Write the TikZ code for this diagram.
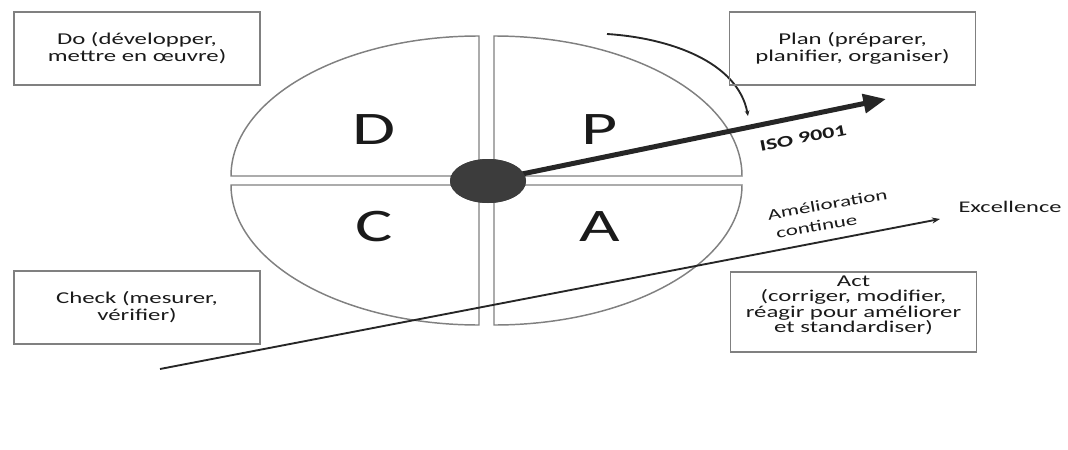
\documentclass[tikz,border=0pt]{standalone}
\usepackage{fontspec}
\setmainfont{Carlito}[FakeStretch=1.5]
\usetikzlibrary{arrows.meta,shapes.geometric}
\definecolor{edgegray}{HTML}{808080}
\definecolor{ink}{HTML}{262626}
\definecolor{textink}{HTML}{1A1A1A}
\definecolor{hubfill}{HTML}{3C3C3C}

\begin{document}
\begin{tikzpicture}[x=0.75pt,y=-0.75pt,
  labelbox/.style={draw=edgegray, line width=1.3pt, minimum width=184.5pt,
    minimum height=54.75pt, align=center, inner sep=0pt, text=textink,
    font=\fontsize{12.4}{12.75}\selectfont},
  quarter/.style={draw=edgegray, line width=1.1pt},
  letter/.style={text=textink, inner sep=0pt, font=\fontsize{35}{35}\selectfont},
  hub/.style={ellipse, fill=hubfill, draw=none, inner sep=0pt,
    minimum width=57pt, minimum height=33pt},
  isoarrow/.style={draw=ink, line width=3.75pt, -{Triangle[length=17pt,width=14pt]}},
  impline/.style={draw=ink, line width=1.4pt, -{Stealth[length=6pt,width=4.5pt]}},
  turnarrow/.style={draw=ink, line width=1.4pt, -{Stealth[length=4pt,width=3.5pt]}},
  sidelabel/.style={text=textink, inner sep=0pt}]

\useasboundingbox (0,0) rectangle (1068,450);

% the four quarters of the cycle
\draw[quarter] (479,176) -- (231,176)
  arc[start angle=180, end angle=270, x radius=248, y radius=140] -- cycle;
\draw[quarter] (494,176) -- (494,36)
  arc[start angle=270, end angle=360, x radius=248, y radius=140] -- cycle;
\draw[quarter] (494,185) -- (742,185)
  arc[start angle=0, end angle=90, x radius=248, y radius=140] -- cycle;
\draw[quarter] (479,185) -- (479,325)
  arc[start angle=90, end angle=180, x radius=248, y radius=140] -- cycle;

\node[letter] (d) at (374,130) {D};
\node[letter] (p) at (600,130) {P};
\node[letter] (c) at (374,227) {C};
\node[letter] (a) at (600,227) {A};

% hub and arrows
\coordinate (isotip) at (886,99);
\coordinate (impstart) at (160,369);
\coordinate (imptip) at (940,219);
\coordinate (cstart) at (607,34);
\coordinate (cend) at (748,116);

\node[hub] (hubpos) at (488,181) {};
\draw[isoarrow] (hubpos.center) -- (isotip);
\node[hub] (hub) at (488,181) {};

\draw[impline] (impstart) -- (imptip);
\draw[turnarrow] (cstart) .. controls (670,38) and (738,62) .. (cend);

\node[sidelabel, rotate=11, font=\bfseries\fontsize{12}{12}\selectfont] (iso) at (803,138) {ISO 9001};
\node[sidelabel, rotate=10, align=left, font=\fontsize{11.5}{14.5}\selectfont] (amel) at (829,214) {Amélioration\\\hspace*{4pt}continue};
\node[sidelabel, font=\fontsize{12.2}{12.2}\selectfont] (exc) at (1010,207) {Excellence};

% phase boxes
\node[labelbox] (do) at (137,48.5) {Do (développer,\\mettre en œuvre)};
\node[labelbox] (plan) at (852.5,48.5) {Plan (préparer,\\planifier, organiser)};
\node[labelbox] (check) at (137,307.5) {Check (mesurer,\\vérifier)};
\node[labelbox, minimum height=60pt, text depth=11.5pt,
  font=\fontsize{12.4}{11.6}\selectfont] (act) at (853.5,312)
  {Act\\(corriger, modifier,\\réagir pour améliorer\\et standardiser)};

\end{tikzpicture}
\end{document}
